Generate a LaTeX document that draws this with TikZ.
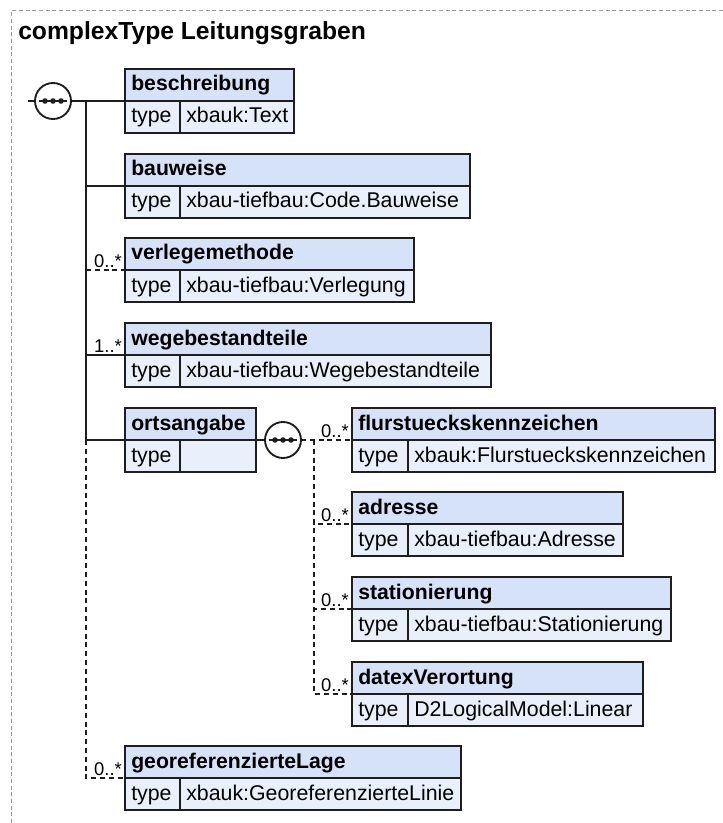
\documentclass[tikz,border=0pt]{standalone}
\usepackage{fontspec}
\setmainfont{Liberation Sans}
\usetikzlibrary{calc}

\definecolor{hdrfill}{RGB}{213,226,247}
\definecolor{rowfill}{RGB}{233,240,252}
\definecolor{edge}{RGB}{30,30,30}
\definecolor{frame}{RGB}{150,150,150}

\tikzset{
  hdrbox/.style={rectangle, draw=edge, fill=hdrfill, line width=1.4pt,
    minimum height=24pt, inner sep=0pt, outer sep=0pt},
  rowbox/.style={rectangle, draw=edge, fill=rowfill, line width=1.4pt,
    minimum height=24pt, inner sep=0pt, outer sep=0pt},
  nametext/.style={font=\fontsize{15.9pt}{18pt}\selectfont\bfseries,
    anchor=base west, inner sep=0pt},
  typetext/.style={font=\fontsize{16pt}{18pt}\selectfont,
    anchor=base west, inner sep=0pt},
  multtext/.style={font=\fontsize{13.8pt}{16pt}\selectfont,
    anchor=base east, inner sep=0pt},
  link/.style={draw=edge, line width=1.4pt},
  optlink/.style={link, dash pattern=on 3.8pt off 2.8pt},
  seqbox/.style={circle, draw=edge, fill=white, line width=1.4pt,
    minimum size=27pt, inner sep=0pt, outer sep=0pt,
    path picture={
      \draw[edge, line width=1.2pt]
        ([xshift=-10.8pt]path picture bounding box.center) --
        ([xshift=10.8pt]path picture bounding box.center);
      \foreach \dx in {-6pt,0pt,6pt}
        \fill[edge] ([xshift=\dx]path picture bounding box.center) circle (2.1pt);
    }},
}

% element box: name, left, top, right, divider, title, type reference
\newcommand\xsdelem[7]{%
  \node[hdrbox, minimum width={(#4-#2)*0.75pt}, anchor=north west] (#1) at (#2,#3) {};
  \node[rowbox, minimum width={(#5-#2)*0.75pt}, anchor=north west] (#1-key) at (#1.south west) {};
  \node[rowbox, minimum width={(#4-#5)*0.75pt}, anchor=north west] (#1-val) at (#1-key.north east) {};
  \node[nametext] (#1-name) at (#2+6,#3+22) {#6};
  \node[typetext] (#1-type) at (#2+6,#3+54) {type};
  \node[typetext] (#1-ref) at (#5+6,#3+54) {#7};
}

\begin{document}
\begin{tikzpicture}[x=0.75pt, y=-0.75pt]
  \useasboundingbox (0,0) rectangle (723,823);

  % dashed frame of the type
  \draw[frame, line width=0.75pt, dash pattern=on 3pt off 2pt] (11,823) -- (11,11) -- (723,11);

  \node[font=\fontsize{18.5pt}{22pt}\selectfont\bfseries, anchor=base west, inner sep=0pt]
    (title) at (18,40) {complexType Leitungsgraben};

  % elements
  \xsdelem{beschreibung}{125}{69}{294}{180}{beschreibung}{xbauk:Text}
  \xsdelem{bauweise}{125}{154}{470}{180}{bauweise}{xbau-tiefbau:Code.Bauweise}
  \xsdelem{verlegemethode}{125}{238}{414}{180}{verlegemethode}{xbau-tiefbau:Verlegung}
  \xsdelem{wegebestandteile}{125}{323}{491}{180}{wegebestandteile}{xbau-tiefbau:Wegebestandteile}
  \xsdelem{ortsangabe}{125}{408}{256}{180}{ortsangabe}{}
  \xsdelem{flurstueck}{352}{408}{715}{408}{flurstueckskennzeichen}{xbauk:Flurstueckskennzeichen}
  \xsdelem{adresse}{352}{492}{623}{408}{adresse}{xbau-tiefbau:Adresse}
  \xsdelem{stationierung}{352}{577}{671}{408}{stationierung}{xbau-tiefbau:Stationierung}
  \xsdelem{datex}{352}{662}{643}{408}{datexVerortung}{D2LogicalModel:Linear}
  \xsdelem{georef}{125}{746}{461}{180}{georeferenzierteLage}{xbauk:GeoreferenzierteLinie}

  % sequence compositors
  \node[seqbox] (seq1) at (53,101) {};
  \node[seqbox] (seq2) at (283,440) {};

  \coordinate (entry) at (28,101);
  \coordinate (trunk) at (86,101);
  \coordinate (fork) at (314,440);

  % outer sequence
  \draw[link] (entry) -- (seq1.west);
  \draw[link] (seq1.east) -- (beschreibung.south west);
  \draw[link] (trunk) |- (bauweise.south west);
  \draw[link] (trunk) |- (wegebestandteile.south west);
  \draw[link] (trunk) |- (ortsangabe.south west);
  \draw[optlink] (trunk |- verlegemethode.south west) -- (verlegemethode.south west);
  \draw[optlink] (trunk |- ortsangabe.south west) |- (georef.south west);

  % inner sequence of ortsangabe
  \draw[link] (ortsangabe.south east) -- (seq2.west);
  \draw[optlink] (seq2.east) -- (flurstueck.south west);
  \draw[optlink] (fork) |- (adresse.south west);
  \draw[optlink] (fork) |- (stationierung.south west);
  \draw[optlink] (fork) |- (datex.south west);

  % occurrence labels
  \node[multtext] (m-verl) at ([xshift=-2.2pt,yshift=2.2pt]verlegemethode.south west) {0..*};
  \node[multtext] (m-wege) at ([xshift=-2.2pt,yshift=2.2pt]wegebestandteile.south west) {1..*};
  \node[multtext] (m-flur) at ([xshift=-2.2pt,yshift=2.2pt]flurstueck.south west) {0..*};
  \node[multtext] (m-adr) at ([xshift=-2.2pt,yshift=2.2pt]adresse.south west) {0..*};
  \node[multtext] (m-stat) at ([xshift=-2.2pt,yshift=2.2pt]stationierung.south west) {0..*};
  \node[multtext] (m-datex) at ([xshift=-2.2pt,yshift=2.2pt]datex.south west) {0..*};
  \node[multtext] (m-geo) at ([xshift=-2.2pt,yshift=2.2pt]georef.south west) {0..*};
\end{tikzpicture}
\end{document}
